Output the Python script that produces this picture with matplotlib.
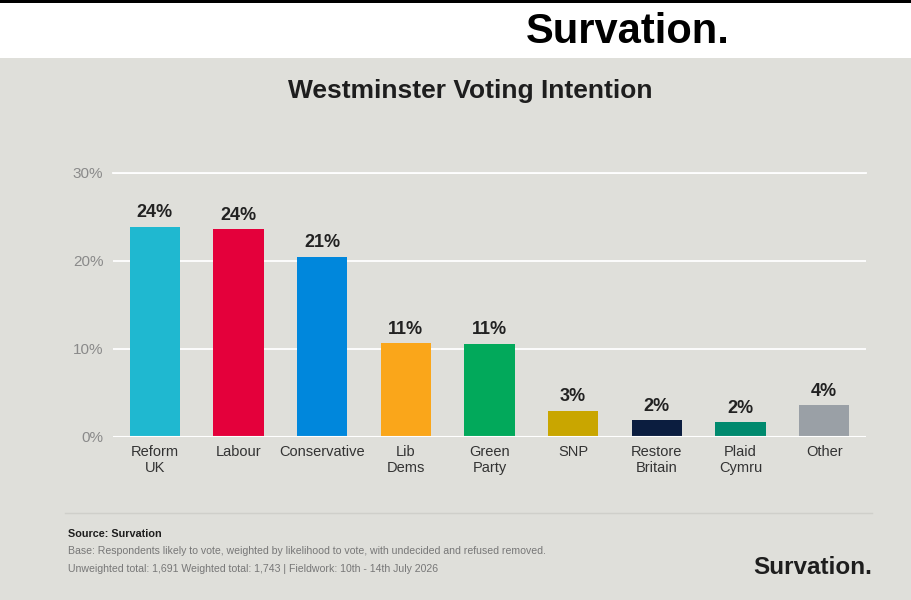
import matplotlib.pyplot as plt
from matplotlib.lines import Line2D
from matplotlib.patches import Rectangle

parties = ["Reform\nUK", "Labour", "Conservative", "Lib\nDems", "Green\nParty",
           "SNP", "Restore\nBritain", "Plaid\nCymru", "Other"]
shares = [23.9, 23.6, 20.5, 10.7, 10.6, 3.0, 1.9, 1.7, 3.6]
labels = ["24%", "24%", "21%", "11%", "11%", "3%", "2%", "2%", "4%"]
colors = ["#1fb8d0", "#e4003b", "#0087dc", "#faa61a", "#02a95b",
          "#c9a600", "#0b1d3f", "#008a6e", "#9aa0a6"]
yticks = [0, 10, 20, 30]

plt.rcParams["font.family"] = ["Liberation Sans", "DejaVu Sans"]
bg = "#dfdfda"

fig = plt.figure(figsize=(9.11, 6), dpi=100)
fig.patch.set_facecolor(bg)

# white header band with black rule on top
fig.add_artist(Rectangle((0, 1 - 58 / 600), 1, 58 / 600, transform=fig.transFigure,
                         facecolor="white", edgecolor="none"))
fig.add_artist(Rectangle((0, 1 - 3 / 600), 1, 3 / 600, transform=fig.transFigure,
                         facecolor="black", edgecolor="none"))
fig.text(628 / 911, 1 - 32 / 600, "Survation.", ha="center", va="center",
         fontsize=30, fontweight="bold", color="black")

fig.text(470 / 911, 1 - 91 / 600, "Westminster Voting Intention", ha="center",
         va="center", fontsize=19, fontweight="bold", color="#1e1e1e")

ax = fig.add_axes([113 / 911, 1 - 437 / 600, (866 - 113) / 911, (437 - 173) / 600])
ax.set_facecolor(bg)
x = range(len(parties))
ax.bar(x, shares, width=0.6, color=colors, zorder=3)
for i, (v, lab) in enumerate(zip(shares, labels)):
    ax.text(i, v + 0.6, lab, ha="center", va="bottom", fontsize=13,
            fontweight="bold", color="#222222")

ax.set_xlim(-0.5, len(parties) - 0.5)
ax.set_ylim(0, 30)
ax.set_yticks(yticks)
ax.set_yticklabels([f"{t}%" for t in yticks], color="#8a8a8a", fontsize=11)
ax.set_xticks(list(x))
ax.set_xticklabels(parties, fontsize=10.5, color="#333333", linespacing=1.15)
ax.tick_params(length=0)
ax.tick_params(axis="y", pad=7)
ax.tick_params(axis="x", pad=6)
ax.grid(axis="y", color="white", linewidth=1.3, zorder=0)
ax.set_axisbelow(True)
for s in ax.spines.values():
    s.set_visible(False)
ax.axhline(0, color="white", linewidth=1.5, zorder=4)
ax.axhline(30, color="white", linewidth=1.3, zorder=0, clip_on=False)

# footer
fig.add_artist(Line2D([65 / 911, 872 / 911], [1 - 513 / 600] * 2,
                      transform=fig.transFigure, color="#cfcfca", linewidth=1))
fig.text(68 / 911, 1 - 534 / 600, "Source: Survation", ha="left", va="center",
         fontsize=7.8, fontweight="bold", color="#1e1e1e")
fig.text(68 / 911, 1 - 551 / 600,
         "Base: Respondents likely to vote, weighted by likelihood to vote, with undecided and refused removed.",
         ha="left", va="center", fontsize=7.6, color="#777777")
fig.text(68 / 911, 1 - 569 / 600,
         "Unweighted total: 1,691 Weighted total: 1,743 | Fieldwork: 10th - 14th July 2026",
         ha="left", va="center", fontsize=7.6, color="#777777")
fig.text(872 / 911, 1 - 567 / 600, "Survation.", ha="right", va="center",
         fontsize=17.5, fontweight="bold", color="#1e1e1e")

fig.savefig("out.png", dpi=100, facecolor=fig.get_facecolor())
